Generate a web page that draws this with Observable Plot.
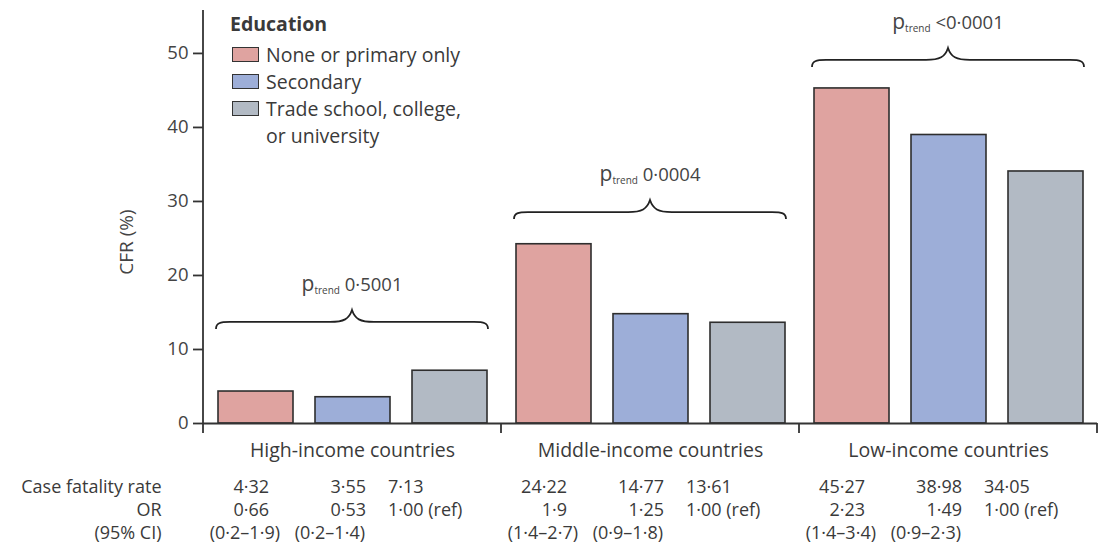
<!DOCTYPE html>
<html>
<head>
<meta charset="utf-8">
<script src="https://cdn.jsdelivr.net/npm/d3@7"></script>
<script src="https://cdn.jsdelivr.net/npm/@observablehq/plot@0.6"></script>
<style>
  body { margin: 0; background: #fff; }
  #chart { position: relative; width: 1100px; height: 554px; font-family: "Open Sans", sans-serif; color: #3a3a3a; }
  #legend { position: absolute; left: 230px; top: 12px; font-size: 19.5px; line-height: 27px; }
  #legend .title { font-weight: bold; line-height: 24px; height: 29px; }
  #legend .item { display: flex; align-items: flex-start; }
  #legend .swatch { width: 25px; height: 13px; border: 1.6px solid #333; margin: 5.5px 7px 0 2px; flex: none; }
  #legend .label { white-space: pre-line; }
</style>
</head>
<body>
<div id="chart"></div>
<script>
// Income groups and education levels
const groups = ["High-income countries", "Middle-income countries", "Low-income countries"];
const education = ["None or primary only", "Secondary", "Trade school, college, or university"];

// Case fatality rate (%) per income group, one value per education level
const cfrHigh = [4.32, 3.55, 7.13];
const cfrMiddle = [24.22, 14.77, 13.61];
const cfrLow = [45.27, 38.98, 34.05];

// Odds ratios and 95% CIs as printed in the table
const orHigh = ["0·66", "0·53", "1·00 (ref)"];
const orMiddle = ["1·9", "1·25", "1·00 (ref)"];
const orLow = ["2·23", "1·49", "1·00 (ref)"];
const ciHigh = ["(0·2–1·9)", "(0·2–1·4)", ""];
const ciMiddle = ["(1·4–2·7)", "(0·9–1·8)", ""];
const ciLow = ["(1·4–3·4)", "(0·9–2·3)", ""];

// Trend test per income group and the CFR level its brace sits at
const pTrend = ["0·5001", "0·0004", "<0·0001"];
const braceLevel = [13.65, 28.5, 49.05];

const yTicks = [0, 10, 20, 30, 40, 50];
const rowLabels = ["Case fatality rate", "OR", "(95% CI)"];

// Styling
const palette = ["#dfa3a0", "#9daed8", "#b2bac4"];
const ink = "#3a3a3a";
const tableSize = 18;

const cfr = [cfrHigh, cfrMiddle, cfrLow];
const or = [orHigh, orMiddle, orLow];
const ci = [ciHigh, ciMiddle, ciLow];

const rows = groups.flatMap((g, gi) => education.map((e, ei) => ({
  group: g, edu: e, col: ei, cfr: cfr[gi][ei], or: or[gi][ei], ci: ci[gi][ei]
})));
const braces = groups.map((g, i) => ({group: g, level: braceLevel[i], p: pTrend[i]}));

const fmt = v => v.toFixed(2).replace(".", "·");

// vertical offsets (px below the baseline) of the group label and table rows
const labelDy = 27;
const rowDy = [64, 87, 110];

// one table row: columns 1–2 right-aligned near the bar, column 3 left-aligned
function tableRow(r, textOf, offsets) {
  return offsets.map(([anchor, dx], col) => Plot.text(rows.filter(d => d.col === col), {
    fx: "group", x: "edu", text: textOf, frameAnchor: "bottom", lineAnchor: "middle",
    textAnchor: anchor, dx, dy: rowDy[r], fill: ink, fontSize: tableSize
  }));
}

// curly brace over each income group, its p-trend label, and the group dividers
function drawBraces(index, scales, values, dims) {
  const g = d3.create("svg:g");
  const x = scales.x, bw = x.bandwidth();
  const [fl, fr] = x.range();
  const base = dims.height - dims.marginBottom;
  for (const i of index) {
    const b = braces[i];
    const gi = groups.indexOf(b.group);
    const y = values.y ? values.y[i] : scales.y(b.level);
    const x0 = x(education[0]) - 2, x1 = x(education[2]) + bw + 1, xm = (x0 + x1) / 2;
    const p = d3.path();
    p.moveTo(x0, y + 7);
    p.bezierCurveTo(x0, y + 1, x0 + 4, y, x0 + 14, y);
    p.lineTo(xm - 22, y);
    p.bezierCurveTo(xm - 8, y, xm - 3, y - 3, xm, y - 12);
    p.bezierCurveTo(xm + 3, y - 3, xm + 8, y, xm + 22, y);
    p.lineTo(x1 - 14, y);
    p.bezierCurveTo(x1 - 4, y, x1, y + 1, x1, y + 7);
    g.append("path").attr("d", p.toString()).attr("fill", "none")
      .attr("stroke", "#222").attr("stroke-width", 1.8);
    const t = g.append("text").attr("x", xm).attr("y", y - 31)
      .attr("text-anchor", "middle").attr("fill", "#444");
    t.append("tspan").attr("font-size", 21).text("p");
    t.append("tspan").attr("font-size", 10).attr("dy", 3).text("trend");
    t.append("tspan").attr("font-size", 18.5).attr("dy", -3).text("\u00a0" + b.p);
    // divider ticks below the baseline
    const tick = (xx, top) => g.append("line").attr("x1", xx).attr("x2", xx)
      .attr("y1", top).attr("y2", base + 10).attr("stroke", "#333").attr("stroke-width", 1.8);
    tick(fl, gi === 0 ? dims.marginTop : base);
    if (gi === groups.length - 1) tick(fr, base);
  }
  return g.node();
}

const chart = Plot.plot({
  width: 1100,
  height: 554,
  marginLeft: 202,
  marginRight: 3,
  marginTop: 10,
  marginBottom: 131,
  style: {fontFamily: "'Open Sans', sans-serif", fontSize: "19px", color: "#333", background: "white", overflow: "visible"},
  fx: {domain: groups, padding: 0, axis: null},
  x: {domain: education, paddingInner: 0.228, paddingOuter: 0.137, axis: null},
  y: {domain: [0, 55.8], axis: null},
  color: {domain: education, range: palette},
  marks: [
    Plot.barY(rows, {fx: "group", x: "edu", y: "cfr", fill: "edu", stroke: "#2e2e2e", strokeWidth: 1.6}),
    Plot.ruleY([0], {stroke: "#333", strokeWidth: 1.8}),
    Plot.axisY({ticks: yTicks, tickSize: 10, tickPadding: 5, tickFormat: d => String(d), label: null, strokeWidth: 1.8, fill: "#444", fontSize: 18.5}),
    Plot.text(["CFR (%)"], {fx: () => groups[0], frameAnchor: "left", textAnchor: "middle", lineAnchor: "middle", rotate: -90, dx: -77, dy: 25, fill: "#444"}),
    Plot.ruleY(braces, {fx: "group", y: "level", strokeOpacity: 0, render: drawBraces}),
    Plot.text(groups, {fx: d => d, text: d => d, frameAnchor: "bottom", lineAnchor: "middle", dy: labelDy, fontSize: 19.5, fill: ink}),
    ...rowLabels.map((label, r) => Plot.text([label], {
      fx: () => groups[0], frameAnchor: "bottom-left", textAnchor: "end", lineAnchor: "middle",
      dx: -42, dy: rowDy[r], fill: ink, fontSize: tableSize
    })),
    ...tableRow(0, d => fmt(d.cfr), [["end", 13], ["end", 13], ["start", -62]]),
    ...tableRow(1, d => d.or, [["end", 13], ["end", 13], ["start", -62]]),
    ...tableRow(2, d => d.ci, [["end", 24], ["end", 12], ["start", -62]])
  ]
});

const root = document.getElementById("chart");
root.appendChild(chart);

// legend overlaid in the upper-left of the plot area
const legend = document.createElement("div");
legend.id = "legend";
const title = document.createElement("div");
title.className = "title";
title.textContent = "Education";
legend.appendChild(title);
education.forEach((e, i) => {
  const item = document.createElement("div");
  item.className = "item";
  const sw = document.createElement("span");
  sw.className = "swatch";
  sw.style.background = palette[i];
  const lab = document.createElement("span");
  lab.className = "label";
  lab.textContent = e.replace(", or ", ",\nor ");
  item.append(sw, lab);
  legend.appendChild(item);
});
root.appendChild(legend);
</script>
</body>
</html>
